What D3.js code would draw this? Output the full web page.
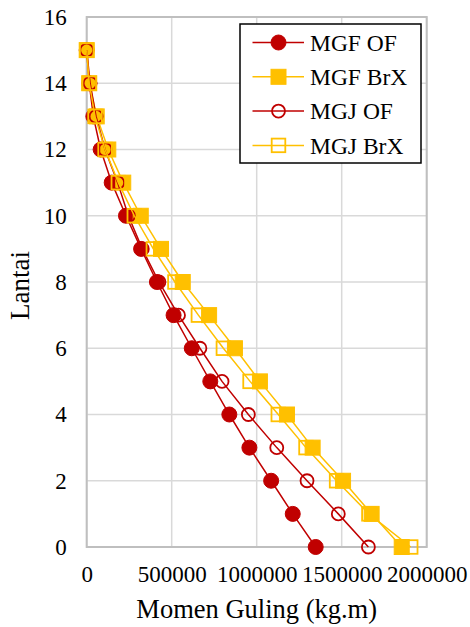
<!DOCTYPE html>
<html>
<head>
<meta charset="utf-8">
<script src="https://cdn.jsdelivr.net/npm/d3@7"></script>
<style>
  html, body { margin: 0; padding: 0; background: #fff; }
</style>
</head>
<body>
<svg id="chart" width="470" height="627" font-family="Liberation Serif, Times New Roman, serif"></svg>
<script>
// Storey levels (Lantai)
const floors = [0, 1, 2, 3, 4, 5, 6, 7, 8, 9, 10, 11, 12, 13, 14, 15];

// Overturning moment per storey (kg.m)
const mgfOF  = [1347000, 1212000, 1085000, 957000, 839000, 727000, 618000, 511000, 413000, 320000, 231000, 147000, 82000, 39000, 15000, 0];
const mgfBrX = [1853000, 1676000, 1508000, 1329000, 1178000, 1019000, 872000, 720000, 565000, 437000, 318000, 215000, 127000, 59000, 15000, 0];
const mgjOF  = [1657000, 1480000, 1296000, 1118000, 951000, 796000, 666000, 540000, 425000, 327000, 245000, 182000, 108000, 55000, 20000, 0];
const mgjBrX = [1906000, 1660000, 1470000, 1290000, 1127000, 961000, 804000, 657000, 519000, 392000, 280000, 186000, 108000, 49000, 15000, 0];

const seriesNames = ["MGF OF", "MGF BrX", "MGJ OF", "MGJ BrX"];
const xTicks = [0, 500000, 1000000, 1500000, 2000000];
const yTicks = [0, 2, 4, 6, 8, 10, 12, 14, 16];

const FONT = "Liberation Serif";
const RED = "#C00000", GOLD = "#FFC000";
const series = [
  { name: seriesNames[0], values: mgfOF,  color: RED,  shape: "circle", filled: true },
  { name: seriesNames[1], values: mgfBrX, color: GOLD, shape: "square", filled: true },
  { name: seriesNames[2], values: mgjOF,  color: RED,  shape: "circle", filled: false },
  { name: seriesNames[3], values: mgjBrX, color: GOLD, shape: "square", filled: false }
];

const svg = d3.select("#chart");
const plot = { left: 86.7, right: 426.7, top: 17, bottom: 547 };

const x = d3.scaleLinear().domain([0, 2000000]).range([plot.left, plot.right]);
const y = d3.scaleLinear().domain([0, 16]).range([plot.bottom, plot.top]);

// Gridlines
const grid = svg.append("g");
grid.selectAll("line.v").data(xTicks).join("line")
  .attr("x1", d => x(d)).attr("x2", d => x(d))
  .attr("y1", plot.top).attr("y2", plot.bottom)
  .attr("stroke", "#D9D9D9").attr("stroke-width", 1.5);
grid.selectAll("line.h").data(yTicks).join("line")
  .attr("x1", plot.left).attr("x2", plot.right)
  .attr("y1", d => y(d)).attr("y2", d => y(d))
  .attr("stroke", "#D9D9D9").attr("stroke-width", 1.5);

// Plot frame
svg.append("rect")
  .attr("x", plot.left).attr("y", plot.top)
  .attr("width", plot.right - plot.left).attr("height", plot.bottom - plot.top)
  .attr("fill", "none").attr("stroke", "#BFBFBF").attr("stroke-width", 2);

// Axes (labels only)
const xAxis = d3.axisBottom(x).tickValues(xTicks).tickSize(0).tickPadding(0).tickFormat(d3.format("d"));
svg.append("g").attr("transform", `translate(0,${plot.bottom + 19})`).call(xAxis)
  .attr("font-family", FONT).attr("font-size", 23)
  .call(g => g.select(".domain").remove())
  .selectAll("text").attr("dy", "0.71em").attr("fill", "#000");

const yAxis = d3.axisLeft(y).tickValues(yTicks).tickSize(0).tickPadding(0).tickFormat(d3.format("d"));
svg.append("g").attr("transform", `translate(${plot.left - 20},0)`).call(yAxis)
  .attr("font-family", FONT).attr("font-size", 23)
  .call(g => g.select(".domain").remove())
  .selectAll("text").attr("fill", "#000");

// Axis titles
svg.append("text")
  .attr("x", (plot.left + plot.right) / 2).attr("y", 618)
  .attr("text-anchor", "middle").attr("font-size", 26.5).attr("font-family", FONT)
  .text("Momen Guling (kg.m)");
svg.append("text")
  .attr("transform", `translate(28.5,285.5) rotate(-90)`)
  .attr("text-anchor", "middle").attr("font-size", 27).attr("font-family", FONT)
  .text("Lantai");

// Marker drawing helper
function drawMarker(sel, s) {
  if (s.shape === "circle") {
    sel.append("circle")
      .attr("r", s.filled ? 7.5 : 6.5)
      .attr("fill", s.filled ? s.color : "none")
      .attr("stroke", s.color).attr("stroke-width", s.filled ? 1 : 1.8);
  } else {
    const h = s.filled ? 7.5 : 6.8;
    sel.append("rect")
      .attr("x", -h).attr("y", -h).attr("width", 2 * h).attr("height", 2 * h)
      .attr("fill", s.filled ? s.color : "none")
      .attr("stroke", s.color).attr("stroke-width", s.filled ? 1 : 1.8);
  }
}

// Series: line then markers, in series order
const line = d3.line().x(d => x(d.v)).y(d => y(d.f));
series.forEach(s => {
  const pts = floors.map((f, i) => ({ f, v: s.values[i] }));
  const g = svg.append("g");
  g.append("path").datum(pts)
    .attr("d", line).attr("fill", "none")
    .attr("stroke", s.color).attr("stroke-width", 1.5);
  g.selectAll("g.m").data(pts).join("g")
    .attr("transform", d => `translate(${x(d.v)},${y(d.f)})`)
    .each(function () { drawMarker(d3.select(this), s); });
});

// Legend
const lg = svg.append("g");
lg.append("rect")
  .attr("x", 240).attr("y", 24).attr("width", 181).attr("height", 139)
  .attr("fill", "#fff").attr("stroke", "#000").attr("stroke-width", 1.5);
series.forEach((s, i) => {
  const cy = 42.5 + i * 34.3;
  const row = lg.append("g");
  row.append("line").attr("x1", 252.5).attr("x2", 304).attr("y1", cy).attr("y2", cy)
    .attr("stroke", s.color).attr("stroke-width", 1.5);
  const m = row.append("g").attr("transform", `translate(278.5,${cy})`);
  drawMarker(m, s);
  row.append("text").attr("x", 310).attr("y", cy).attr("dy", "0.35em")
    .attr("font-size", 23.5).attr("font-family", FONT).text(s.name);
});
</script>
</body>
</html>
